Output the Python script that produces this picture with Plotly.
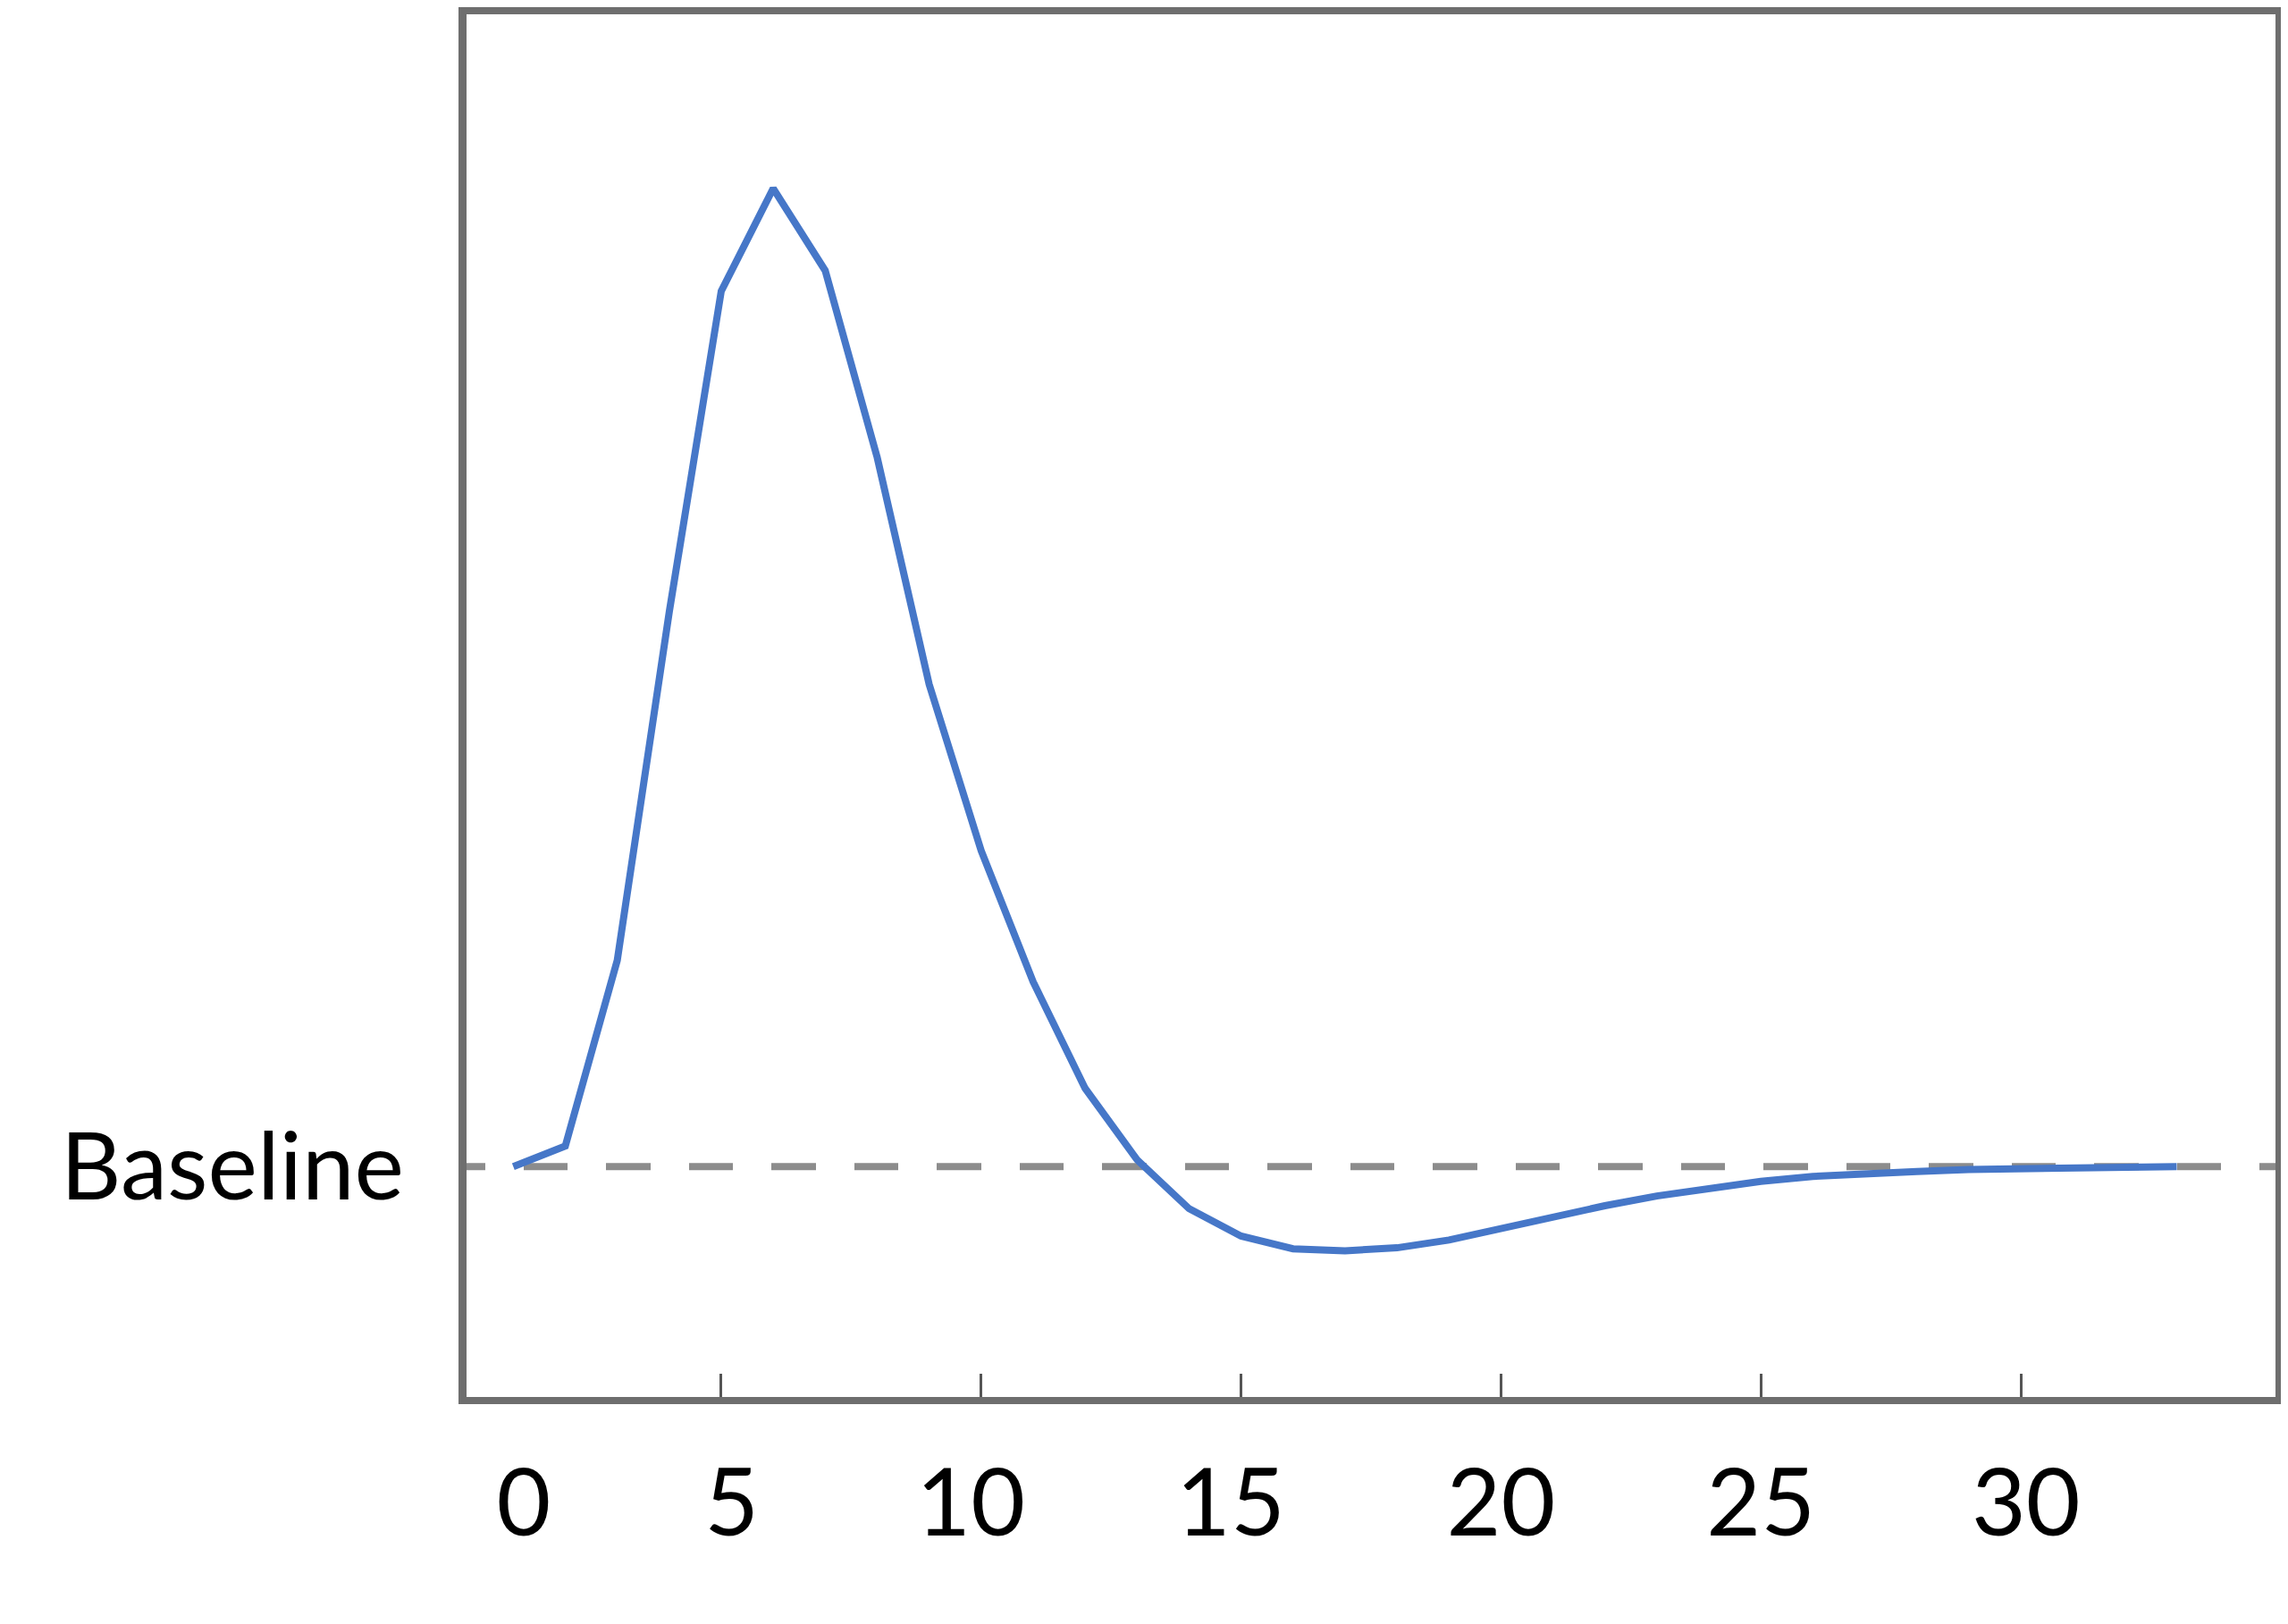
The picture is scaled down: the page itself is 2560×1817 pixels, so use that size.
import plotly.graph_objects as go

# ---- data ----
time_s = list(range(1, 34))
response = [0.0, 0.021, 0.211, 0.567, 0.895, 1.0, 0.916, 0.725, 0.493, 0.323,
            0.189, 0.080, 0.007, -0.043, -0.071, -0.084, -0.086, -0.083, -0.075,
            -0.063, -0.051, -0.040, -0.030, -0.022, -0.015, -0.010, -0.007,
            -0.005, -0.003, -0.002, -0.001, -0.0005, 0.0]

tick_label_pos = [1.2, 5.2, 9.8, 14.8, 20.0, 25.0, 30.1]
tick_labels = ["0", "5", "10", "15", "20", "25", "30"]
tick_mark_pos = [5, 10, 15, 20, 25, 30]

baseline_value = 0.0
baseline_label = "Baseline"

x_range = [0.1, 34.9]
y_range = [-0.2355, 1.178]

# ---- figure ----
FONT = "Lato, 'Open Sans', sans-serif"
frame_color = "#6e6e6e"

fig = go.Figure()
fig.add_trace(go.Scatter(
    x=time_s, y=response, mode="lines",
    line=dict(color="#4677C8", width=8),
    showlegend=False, hoverinfo="skip",
))

dash_pattern = "21px,43px," + ",".join(["49px,43px,50px,43px"] * 12)
fig.add_shape(
    type="line", xref="paper", yref="y",
    x0=0, x1=1.008, y0=baseline_value, y1=baseline_value,
    line=dict(color="#8c8c8c", width=8, dash=dash_pattern),
    layer="below",
)

fig.update_layout(
    width=2552, height=1801,
    margin=dict(l=514, r=14, t=0, b=246, pad=0),
    paper_bgcolor="white", plot_bgcolor="white",
    font=dict(family=FONT, size=105, color="black"),
    xaxis=dict(
        range=x_range, showgrid=False, zeroline=False,
        showline=True, linecolor=frame_color, linewidth=8, mirror=True,
        tickmode="array", tickvals=tick_label_pos, ticktext=tick_labels,
        ticks="", ticklabelstandoff=21,
        minor=dict(tickmode="array", tickvals=tick_mark_pos, ticks="inside",
                   ticklen=26, tickwidth=3, tickcolor="#555555", showgrid=False),
        fixedrange=True,
    ),
    yaxis=dict(
        range=y_range, showgrid=False, zeroline=False,
        showline=True, linecolor=frame_color, linewidth=9, mirror=True,
        tickmode="array", tickvals=[baseline_value], ticktext=[baseline_label],
        ticks="", ticklabelstandoff=40,
        fixedrange=True,
    ),
)

fig.write_html("out.html")
